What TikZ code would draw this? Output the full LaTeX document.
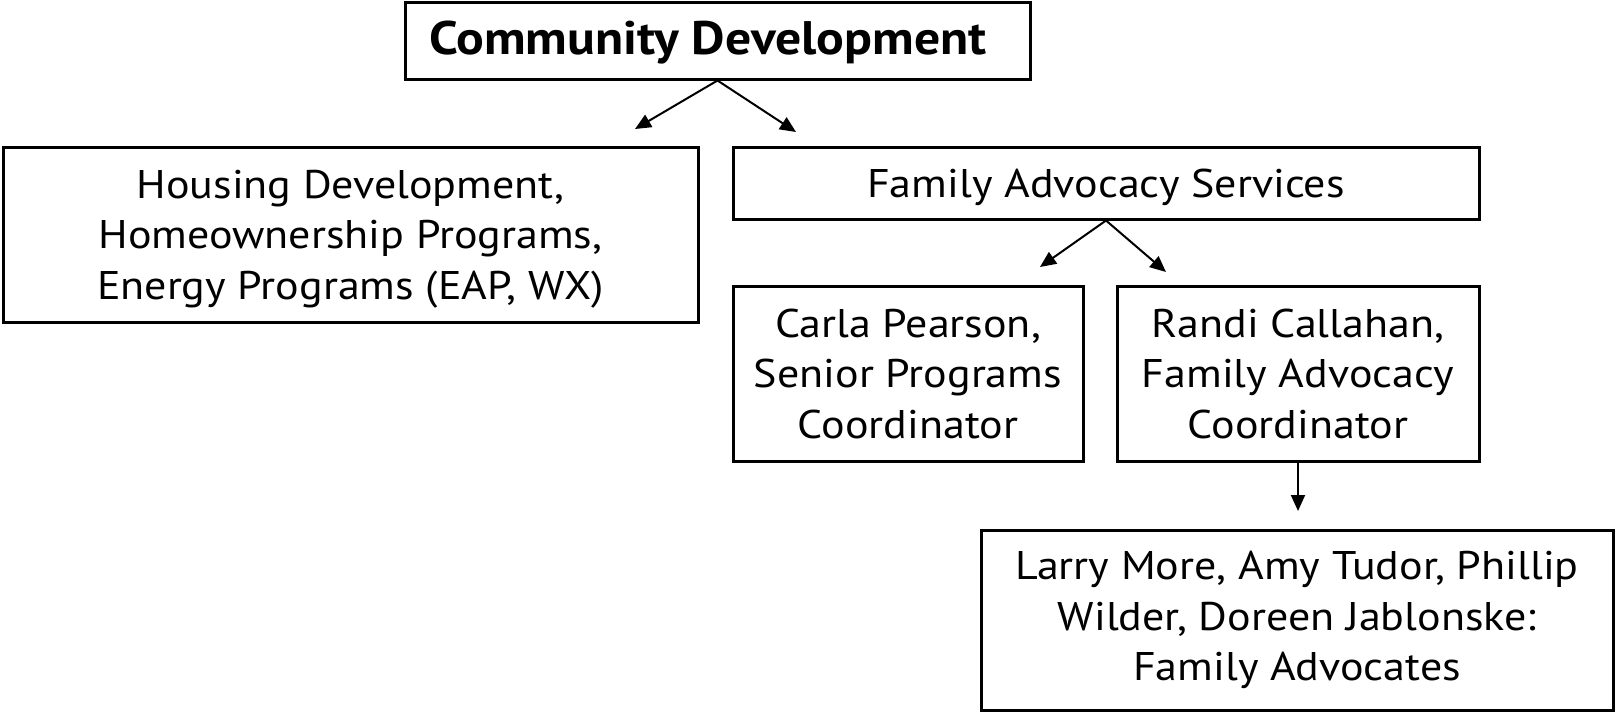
\documentclass[tikz,border=0pt]{standalone}
\usepackage{fontspec}
\setmainfont[FakeStretch=1.1]{PT Sans}
\usetikzlibrary{arrows.meta}
\begin{document}
\begin{tikzpicture}[x=1pt,y=-1pt,
  box/.style={draw=black, line width=3pt, fill=white, inner sep=0pt, align=center,
    font=\fontsize{40}{50.5}\selectfont},
  txt/.style={inner sep=0pt, align=center, font=\fontsize{40}{50.5}\selectfont},
  conn/.style={line width=2pt, -{Triangle[length=16pt,width=14pt]}}]
\useasboundingbox (0,0) rectangle (1615,712);
\node[box, minimum width=625pt, minimum height=77pt] (top) at (717.5,40.5) {};
\node[font=\fontsize{47}{50}\selectfont\bfseries, inner sep=0pt] (toptxt) at (708,43) {Community Development};
\node[box, minimum width=695pt, minimum height=175pt] (housing) at (350.5,234.5) {};
\node[txt] (housingtxt) at (350.5,239)
  {Housing Development,\\Homeownership Programs,\\Energy Programs (EAP, WX)};
\node[box, minimum width=746pt, minimum height=72pt] (fas) at (1106,183) {};
\node[txt] (fastxt) at (1106,187) {Family Advocacy Services};
\node[box, minimum width=350pt, minimum height=175pt] (carla) at (908,373.5)
  {Carla Pearson,\\Senior Programs\\Coordinator};
\node[box, minimum width=362pt, minimum height=175pt] (randi) at (1298,373.5)
  {Randi Callahan,\\Family Advocacy\\Coordinator};
\node[box, minimum width=632pt, minimum height=180pt] (larry) at (1297,620)
  {Larry More, Amy Tudor, Phillip\\Wilder, Doreen Jablonske:\\Family Advocates};
\coordinate (a1) at (635,129);
\coordinate (a2) at (796,132);
\coordinate (b1) at (1040,267);
\coordinate (b2) at (1166,272);
\coordinate (c1) at (1298,511);
\draw[conn] (top.south) -- (a1);
\draw[conn] (top.south) -- (a2);
\draw[conn] (fas.south) -- (b1);
\draw[conn] (fas.south) -- (b2);
\draw[conn] (randi.south) -- (c1);
\end{tikzpicture}
\end{document}
